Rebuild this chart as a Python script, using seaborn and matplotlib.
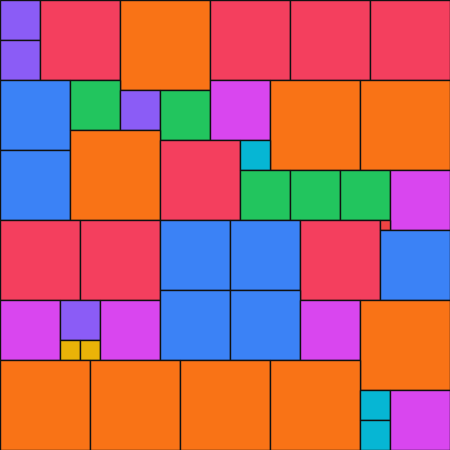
import matplotlib
matplotlib.use("Agg")
import matplotlib.pyplot as plt
import seaborn as sns
import pandas as pd

# square packing: left x, top y, side length (pixels of a 450 canvas)
xs = [0, 0, 40, 120, 210, 290, 370,
      0, 70, 120, 160, 210, 270, 360,
      0, 70, 160, 240, 240, 290, 340, 390,
      0, 80, 160, 230, 300, 380, 380,
      0, 60, 60, 80, 100, 160, 230, 300, 360,
      0, 90, 180, 270, 360, 360, 390]
ys = [0, 40, 0, 0, 0, 0, 0,
      80, 80, 90, 90, 80, 80, 80,
      150, 130, 140, 140, 170, 170, 170, 170,
      220, 220, 220, 220, 220, 220, 230,
      300, 300, 340, 340, 300, 290, 290, 300, 300,
      360, 360, 360, 360, 390, 420, 390]
sizes = [40, 40, 80, 90, 80, 80, 80,
         70, 50, 40, 50, 60, 90, 90,
         70, 90, 80, 30, 50, 50, 50, 60,
         80, 80, 70, 70, 80, 10, 70,
         60, 40, 20, 20, 60, 70, 70, 60, 90,
         90, 90, 90, 90, 30, 30, 60]

palette = {10: "#ef4444", 20: "#eab308", 30: "#06b6d4", 40: "#8b5cf6",
           50: "#22c55e", 60: "#d946ef", 70: "#3b82f6", 80: "#f43f5e",
           90: "#f97316"}

df = pd.DataFrame({"x": xs, "y": ys, "size": sizes})

sns.set_theme(style="white")
fig = plt.figure(figsize=(4.5, 4.5), dpi=100)
ax = fig.add_axes([0, 0, 1, 1])
ax.bar(df["x"], df["size"], width=df["size"], bottom=df["y"], align="edge",
       color=[palette[s] for s in df["size"]], edgecolor="#111111", linewidth=1.0)
ax.set_xlim(0, 450)
ax.set_ylim(450, 0)
ax.axis("off")
fig.savefig("out.png", dpi=100)
